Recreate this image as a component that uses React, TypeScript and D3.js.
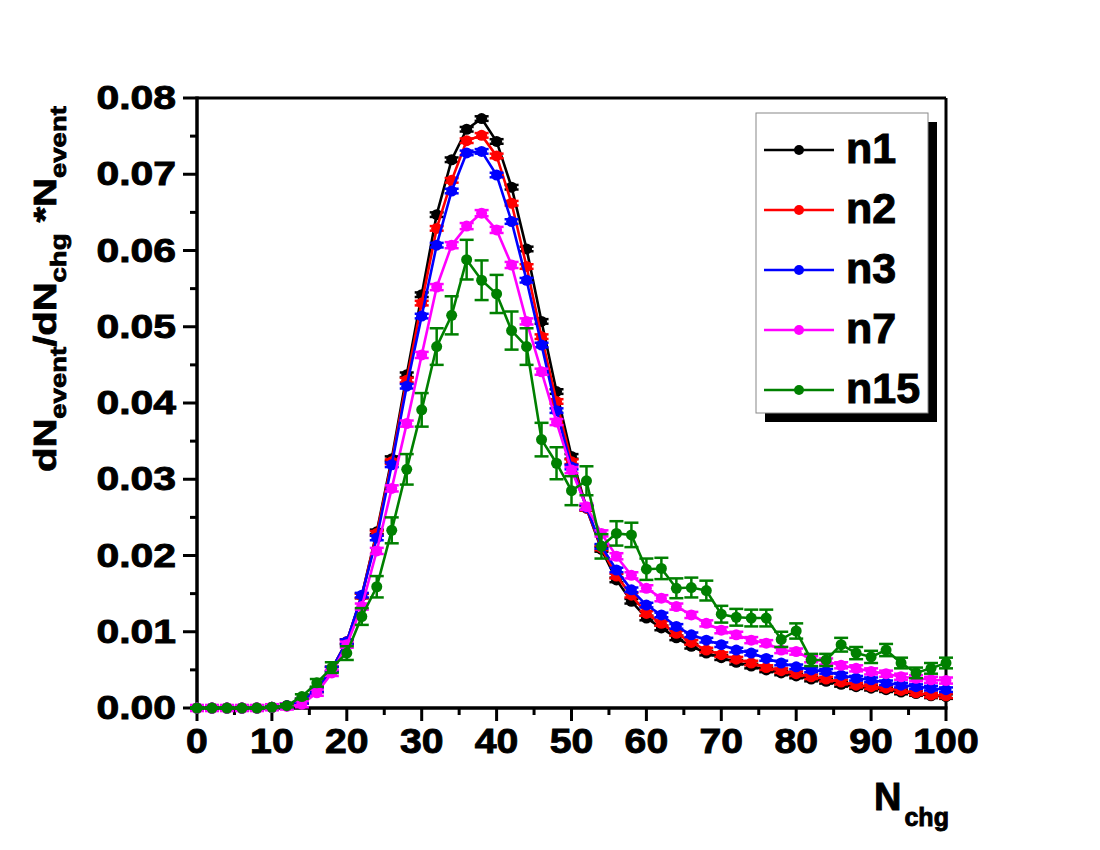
import React, { useEffect, useRef } from 'react';
import * as d3 from 'd3';

// N_chg bin centres
const nchg = d3.range(0, 102, 2);

const n1 = [0, 0, 0, 0, 0, 0.0001, 0.0003, 0.0009, 0.0024, 0.0051,
  0.0087, 0.0147, 0.0231, 0.0327, 0.0437, 0.0542, 0.0647, 0.0719, 0.0759, 0.0773,
  0.0743, 0.0683, 0.0602, 0.0507, 0.0415, 0.033, 0.0262, 0.0208, 0.0168, 0.014,
  0.0118, 0.0105, 0.0092, 0.0081, 0.0072, 0.0066, 0.006, 0.0055, 0.005, 0.0046,
  0.0042, 0.0038, 0.0035, 0.0031, 0.0028, 0.0026, 0.0024, 0.0021, 0.0019, 0.0016,
  0.0015];

const n2 = [0, 0, 0, 0, 0, 0.0001, 0.0003, 0.0009, 0.0024, 0.0051,
  0.0087, 0.0147, 0.0229, 0.0323, 0.043, 0.0531, 0.0629, 0.0692, 0.0744, 0.0751,
  0.0724, 0.0662, 0.0579, 0.0487, 0.0402, 0.0323, 0.0262, 0.021, 0.0173, 0.0148,
  0.0124, 0.0111, 0.0098, 0.0086, 0.0076, 0.007, 0.0064, 0.0059, 0.0053, 0.0049,
  0.0045, 0.0041, 0.0038, 0.0034, 0.003, 0.0028, 0.0026, 0.0023, 0.002, 0.0017,
  0.0016];

const n3 = [0, 0, 0, 0, 0, 0.0001, 0.0003, 0.0009, 0.0024, 0.0051,
  0.0087, 0.0148, 0.0223, 0.0319, 0.0422, 0.0514, 0.0607, 0.0678, 0.0728, 0.073,
  0.0699, 0.0638, 0.0561, 0.0476, 0.039, 0.0316, 0.0263, 0.0212, 0.0181, 0.0155,
  0.0135, 0.0122, 0.0107, 0.0096, 0.0089, 0.0083, 0.0076, 0.0072, 0.0065, 0.0059,
  0.0054, 0.005, 0.0048, 0.0043, 0.0039, 0.0037, 0.0033, 0.003, 0.0028, 0.0026,
  0.0024];

const n7 = [0, 0, 0, 0, 0, 0.0001, 0.0002, 0.0005, 0.002, 0.0046,
  0.0083, 0.0133, 0.0206, 0.0288, 0.0373, 0.0463, 0.0552, 0.0607, 0.0632, 0.0649,
  0.0627, 0.0581, 0.0507, 0.0441, 0.0375, 0.0312, 0.0264, 0.0229, 0.0199, 0.0174,
  0.0157, 0.0144, 0.0133, 0.0122, 0.0111, 0.0102, 0.0096, 0.0089, 0.0085, 0.0076,
  0.0074, 0.0064, 0.0061, 0.0056, 0.0052, 0.0048, 0.0045, 0.0041, 0.0039, 0.0037,
  0.0036];

const n15 = [0, 0, 0, 0, 0, 0.0001, 0.0003, 0.0015, 0.0033, 0.0053,
  0.0072, 0.012, 0.0159, 0.0233, 0.0313, 0.0391, 0.0474, 0.0515, 0.0588, 0.0561,
  0.0543, 0.0495, 0.0474, 0.0352, 0.0321, 0.0285, 0.0298, 0.0212, 0.0229, 0.0227,
  0.0182, 0.0183, 0.0157, 0.0158, 0.0154, 0.0123, 0.0119, 0.0118, 0.0118, 0.009,
  0.0101, 0.0063, 0.0063, 0.0083, 0.0072, 0.0067, 0.0076, 0.0059, 0.0046, 0.0052,
  0.0059];

const n15Err = [0.0001, 0.0001, 0.0001, 0.0001, 0.0001, 0.0001, 0.0002, 0.0003, 0.0005, 0.0007,
  0.0009, 0.0011, 0.0014, 0.0017, 0.002, 0.0022, 0.0024, 0.0025, 0.0026, 0.0026,
  0.0025, 0.0025, 0.0024, 0.0022, 0.0021, 0.0019, 0.0019, 0.0016, 0.0016, 0.0016,
  0.0014, 0.0014, 0.0013, 0.0013, 0.0013, 0.0011, 0.0011, 0.0011, 0.0011, 0.001,
  0.001, 0.0008, 0.0008, 0.0009, 0.0008, 0.0008, 0.0008, 0.0007, 0.0007, 0.0007,
  0.0007];

const seriesNames = ['n1', 'n2', 'n3', 'n7', 'n15'];
const seriesColors = ['#000000', '#ff0000', '#0000ff', '#ff00ff', '#008000'];
const seriesValues = [n1, n2, n3, n7, n15];
const seriesErr = [0.0003, 0.0003, 0.0003, 0.0004, null];

const xTicks = [0, 10, 20, 30, 40, 50, 60, 70, 80, 90, 100];
const xMinor = [5, 15, 25, 35, 45, 55, 65, 75, 85, 95];
const yTicks = [0, 0.01, 0.02, 0.03, 0.04, 0.05, 0.06, 0.07, 0.08];
const yMinor = [0.005, 0.015, 0.025, 0.035, 0.045, 0.055, 0.065, 0.075];

const FONT = '"Liberation Sans", Arial, sans-serif';

export default function App() {
  const svgRef = useRef<SVGSVGElement>(null);

  useEffect(() => {
    if (!svgRef.current) return;
    const svg = d3.select(svgRef.current).html('');

    const x = d3.scaleLinear().domain([0, 100]).range([197, 946]);
    const y = d3.scaleLinear().domain([0, 0.08]).range([708, 98]);

    // frame top/right
    svg.append('line').attr('x1', x(0)).attr('x2', x(100)).attr('y1', y(0.08)).attr('y2', y(0.08))
      .attr('stroke', '#000').attr('stroke-width', 3);
    svg.append('line').attr('x1', x(100)).attr('x2', x(100)).attr('y1', y(0.08)).attr('y2', y(0))
      .attr('stroke', '#000').attr('stroke-width', 3);

    // axes
    const ax = svg.append('g');
    ax.selectAll('line.ymaj').data(yTicks).enter().append('line')
      .attr('x1', x(0) - 14).attr('x2', x(0)).attr('y1', d => y(d)).attr('y2', d => y(d));
    ax.selectAll('line.ymin').data(yMinor).enter().append('line')
      .attr('x1', x(0) - 7).attr('x2', x(0)).attr('y1', d => y(d)).attr('y2', d => y(d));
    ax.selectAll('line.xmaj').data(xTicks).enter().append('line')
      .attr('x1', d => x(d)).attr('x2', d => x(d)).attr('y1', y(0)).attr('y2', y(0) + 13);
    ax.selectAll('line.xmin').data(xMinor).enter().append('line')
      .attr('x1', d => x(d)).attr('x2', d => x(d)).attr('y1', y(0)).attr('y2', y(0) + 7);
    ax.selectAll('line').attr('stroke', '#000').attr('stroke-width', 3);
    ax.append('line').attr('x1', x(0)).attr('x2', x(0)).attr('y1', y(0.08) - 1.5).attr('y2', y(0) + 1.5)
      .attr('stroke', '#000').attr('stroke-width', 3.5);
    ax.append('line').attr('x1', x(0) - 1.5).attr('x2', x(100) + 1.5).attr('y1', y(0)).attr('y2', y(0))
      .attr('stroke', '#000').attr('stroke-width', 3.5);

    const heavy = (sel: d3.Selection<SVGTextElement, any, any, any>, w: number) =>
      sel.attr('font-family', FONT).attr('font-weight', 'bold')
        .attr('stroke', '#000').attr('stroke-width', w).attr('fill', '#000');

    heavy(svg.selectAll('text.ylab').data(yTicks).enter().append('text')
      .attr('transform', d => `translate(176,${y(d) + 11}) scale(1.24,1)`)
      .attr('text-anchor', 'end').attr('font-size', 33).text(d => d3.format('.2f')(d)), 0.9);

    heavy(svg.selectAll('text.xlab').data(xTicks).enter().append('text')
      .attr('transform', d => `translate(${x(d)},753) scale(1.12,1)`)
      .attr('text-anchor', 'middle').attr('font-size', 35).text(d => String(d)), 0.9);

    // y title
    const yt = heavy(svg.append('text')
      .attr('transform', 'translate(56,472) rotate(-90) scale(1.25,1)')
      .attr('font-size', 32), 0.8);
    yt.append('tspan').text('dN');
    yt.append('tspan').attr('font-size', 22).attr('dy', 10).text('event');
    yt.append('tspan').attr('dy', -10).text('/dN');
    yt.append('tspan').attr('font-size', 22).attr('dy', 10).text('chg');
    yt.append('tspan').attr('dy', -10).text(' *N');
    yt.append('tspan').attr('font-size', 22).attr('dy', 10).text('event');

    // x title
    const xt = heavy(svg.append('text').attr('x', 874).attr('y', 810).attr('font-size', 38), 0.9);
    xt.append('tspan').text('N');
    xt.append('tspan').attr('font-size', 25).attr('dy', 16).attr('dx', 3).text('chg');

    // data
    const line = d3.line<number>().x((_, i) => x(nchg[i])).y(d => y(d));
    seriesValues.forEach((vals, si) => {
      const g = svg.append('g');
      const c = seriesColors[si];
      g.append('path').datum(vals).attr('fill', 'none').attr('stroke', c).attr('stroke-width', 2.6)
        .attr('d', line);
      const errs = vals.map((_, i) => seriesErr[si] ?? n15Err[i]);
      const pts = g.selectAll('g.pt').data(vals).enter().append('g');
      pts.append('line')
        .attr('x1', (_, i) => x(nchg[i])).attr('x2', (_, i) => x(nchg[i]))
        .attr('y1', (d, i) => y(d + errs[i])).attr('y2', (d, i) => y(d - errs[i]))
        .attr('stroke', c).attr('stroke-width', 2.5);
      [1, -1].forEach(s => {
        pts.append('line')
          .attr('x1', (_, i) => x(nchg[i]) - 7).attr('x2', (_, i) => x(nchg[i]) + 7)
          .attr('y1', (d, i) => y(d + s * errs[i])).attr('y2', (d, i) => y(d + s * errs[i]))
          .attr('stroke', c).attr('stroke-width', 2.5);
      });
      pts.append('circle').attr('cx', (_, i) => x(nchg[i])).attr('cy', d => y(d))
        .attr('r', si === 4 ? 5.5 : 5.5).attr('fill', c);
    });

    // legend
    const lg = svg.append('g');
    lg.append('rect').attr('x', 765).attr('y', 122).attr('width', 172).attr('height', 300).attr('fill', '#000');
    lg.append('rect').attr('x', 756).attr('y', 113).attr('width', 172).attr('height', 300)
      .attr('fill', '#fff').attr('stroke', '#888').attr('stroke-width', 1);
    seriesNames.forEach((name, i) => {
      const cy = 150 + i * 60;
      lg.append('line').attr('x1', 764).attr('x2', 834).attr('y1', cy).attr('y2', cy)
        .attr('stroke', seriesColors[i]).attr('stroke-width', 2.5);
      lg.append('circle').attr('cx', 799).attr('cy', cy).attr('r', 5).attr('fill', seriesColors[i]);
      heavy(lg.append('text').attr('x', 846).attr('y', cy + 13)
        .attr('font-size', 43).text(name), 1);
    });
  }, []);

  return (
    <div style={{ position: 'absolute', left: 0, top: 0, width: 1100, height: 850, background: '#fff' }}>
      <svg ref={svgRef} width={1100} height={850} style={{ display: 'block' }}></svg>
    </div>
  );
}
